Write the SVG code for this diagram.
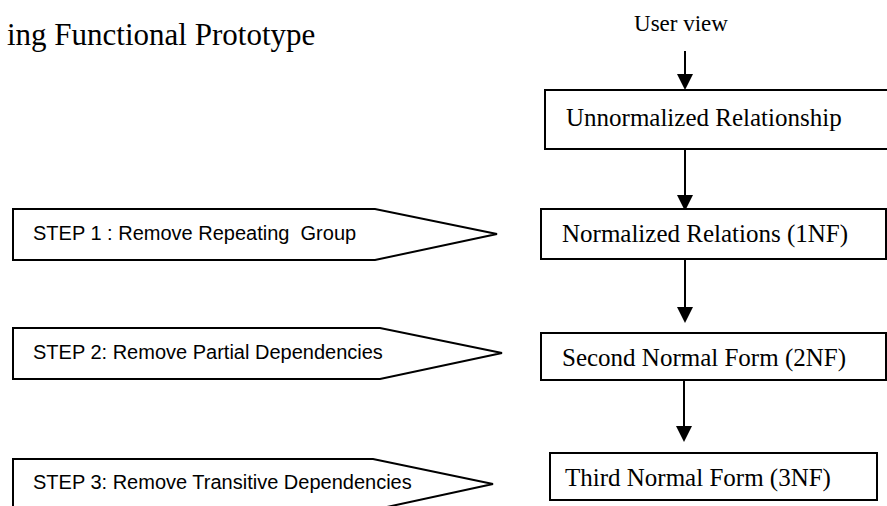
<svg xmlns="http://www.w3.org/2000/svg" width="887" height="506" viewBox="0 0 887 506">
<style>
.bg{fill:#ffffff}
.box{fill:#ffffff;stroke:#000000;stroke-width:2}
.step{fill:#ffffff;stroke:#000000;stroke-width:2;stroke-linejoin:miter}
.serif{font-family:"Liberation Serif","Times New Roman",serif;fill:#000000}
.sans{font-family:"Liberation Sans",Arial,sans-serif;font-size:20px;fill:#000000;white-space:pre}
.bt{font-size:25px}
.conn{stroke:#000000;stroke-width:2;fill:none}
</style>
<defs>
<marker id="ah" markerUnits="userSpaceOnUse" markerWidth="16" markerHeight="16" refX="0" refY="8" orient="auto">
<path d="M0,0 L16,8 L0,16 z" fill="#000000"/>
</marker>
</defs>
<rect class="bg" x="0" y="0" width="887" height="506"/>
<text id="title" class="serif" x="7" y="45" font-size="31">ing Functional Prototype</text>
<text id="userview" class="serif" x="681" y="31" font-size="23" text-anchor="middle">User view</text>
<g id="connectors">
<line class="conn" x1="685" y1="51" x2="685" y2="74" marker-end="url(#ah)"/>
<line class="conn" x1="685" y1="149" x2="685" y2="195" marker-end="url(#ah)"/>
<line class="conn" x1="685" y1="259" x2="685" y2="307" marker-end="url(#ah)"/>
<line class="conn" x1="684" y1="380" x2="684" y2="426" marker-end="url(#ah)"/>
</g>
<g id="unnormalized">
<rect class="box" x="545" y="90" width="360" height="59"/>
<text class="serif bt" x="566" y="126">Unnormalized Relationship</text>
</g>
<g id="nf1">
<rect class="box" x="541" y="209" width="345" height="50"/>
<text class="serif bt" x="562" y="242">Normalized Relations (1NF)</text>
</g>
<g id="nf2">
<rect class="box" x="541" y="333" width="345" height="47"/>
<text class="serif bt" x="562" y="366">Second Normal Form (2NF)</text>
</g>
<g id="nf3">
<rect class="box" x="550" y="453" width="327" height="47"/>
<text class="serif bt" x="565" y="486">Third Normal Form (3NF)</text>
</g>
<g id="step1">
<polygon class="step" points="13,209 375,209 497,234 375,260 13,260"/>
<text class="sans" x="33" y="240" xml:space="preserve">STEP 1 : Remove Repeating  Group</text>
</g>
<g id="step2">
<polygon class="step" points="13,328 380,328 502,353 380,379 13,379"/>
<text class="sans" x="33" y="359">STEP 2: Remove Partial Dependencies</text>
</g>
<g id="step3">
<polygon class="step" points="13,459 373,459 493,484 373,510 13,510"/>
<text class="sans" x="33" y="489">STEP 3: Remove Transitive Dependencies</text>
</g>
</svg>
